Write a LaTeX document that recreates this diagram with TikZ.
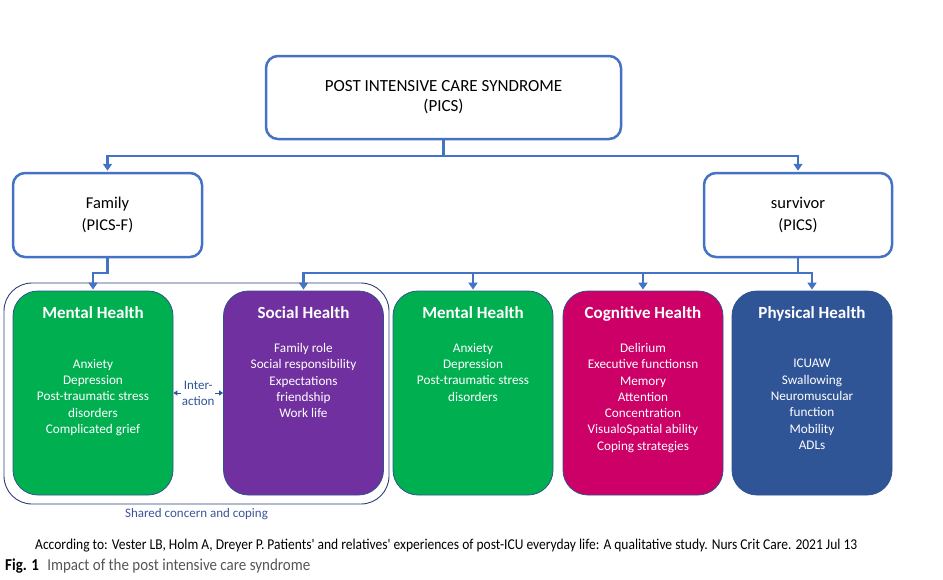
\documentclass[tikz,border=0pt]{standalone}
\usepackage{fontspec}
\setmainfont{Carlito}
\newfontfamily\citefont{Carlito}[Ligatures=ResetAll, FakeStretch=0.9]
\usetikzlibrary{arrows.meta}
\definecolor{cblue}{HTML}{4472C4}
\definecolor{cgreen}{HTML}{00B050}
\definecolor{cpurple}{HTML}{7030A0}
\definecolor{cmag}{HTML}{CC0066}
\definecolor{cphys}{HTML}{2F5597}
\definecolor{cedge}{HTML}{2F528F}
\definecolor{cnavy}{HTML}{2B3F73}
\definecolor{cshared}{HTML}{3B5598}
\definecolor{cgray}{HTML}{555555}
\begin{document}
\begin{tikzpicture}[x=1pt,y=-1pt,
  wbox/.style={draw=cblue, line width=2.5pt, rounded corners=12pt, fill=white,
    align=center, text=black, font=\fontsize{16.5}{22}\selectfont},
  cbox/.style={draw=cedge, line width=0.8pt, rounded corners=25pt,
    minimum width=160pt, minimum height=204pt, inner sep=0pt},
  hdr/.style={text=white, font=\bfseries\fontsize{17}{20}\selectfont, inner sep=0pt, anchor=base},
  body/.style={text=white, align=center, anchor=north, inner sep=0pt,
    font=\fontsize{13.2}{16.3}\selectfont},
  conn/.style={draw=cblue, line width=2.5pt},
  arr/.style={conn, -{Triangle[width=9pt,length=7pt]}, shorten >=1pt},
  iarr/.style={draw=cphys, line width=0.9pt, {Triangle[width=5pt,length=4pt]}-{Triangle[width=5pt,length=4pt]}},
  sharedbox/.style={draw=cnavy, line width=0.9pt, rounded corners=28pt,
    minimum width=385pt, minimum height=221pt, inner sep=0pt}
]
\useasboundingbox (0,0) rectangle (943,579);

% shared concern frame
\node[sharedbox] (shared) at (196.5,393.5) {};
\node[text=cshared, font=\fontsize{13}{15}\selectfont, anchor=north, inner sep=0pt] (sharedlbl)
  at ([yshift=-4pt]shared.south) {Shared concern and coping};

% top level
\node[wbox, minimum width=355pt, minimum height=83pt, font=\fontsize{17}{20}\selectfont] (top)
  at (443.5,97.5) {POST INTENSIVE CARE SYNDROME\\(PICS)};
\node[wbox, minimum width=189pt, minimum height=84pt] (fam) at (107.5,215) {Family\\(PICS-F)};
\node[wbox, minimum width=188pt, minimum height=84pt] (surv) at (798,215) {survivor\\(PICS)};

% coloured boxes
\node[cbox, fill=cgreen] (mh1) at (93,393) {};
\node[cbox, fill=cpurple] (sh) at (303.5,393) {};
\node[cbox, fill=cgreen] (mh2) at (473,393) {};
\node[cbox, fill=cmag] (cg) at (643,393) {};
\node[cbox, fill=cphys] (ph) at (812,393) {};

\node[hdr] (mh1h) at ([yshift=-28pt]mh1.north) {Mental Health};
\node[hdr] (shh) at ([yshift=-28pt]sh.north) {Social Health};
\node[hdr] (mh2h) at ([yshift=-28pt]mh2.north) {Mental Health};
\node[hdr] (cgh) at ([yshift=-28pt]cg.north) {Cognitive Health};
\node[hdr] (phh) at ([yshift=-28pt]ph.north) {Physical Health};

\node[body] (mh1b) at ([yshift=-68.5pt]mh1.north) {Anxiety\\Depression\\Post-traumatic stress\\disorders\\Complicated grief};
\node[body] (shb) at ([yshift=-52.5pt]sh.north) {Family role\\Social responsibility\\Expectations\\friendship\\Work life};
\node[body] (mh2b) at ([yshift=-52.5pt]mh2.north) {Anxiety\\Depression\\Post-traumatic stress\\disorders};
\node[body] (cgb) at ([yshift=-52.5pt]cg.north) {Delirium\\Executive functionsn\\Memory\\Attention\\Concentration\\VisualoSpatial ability\\Coping strategies};
\node[body] (phb) at ([yshift=-68.5pt]ph.north) {ICUAW\\Swallowing\\Neuromuscular\\function\\Mobility\\ADLs};

% connectors
\coordinate (bus1) at (0,156);
\coordinate (bus2) at (0,273);
\draw[conn] (top.south) -- (top.south |- bus1);
\draw[arr] (top.south |- bus1) -| (fam.north);
\draw[arr] (top.south |- bus1) -| (surv.north);
\draw[arr] (fam.south) -- (fam.south |- bus2) -| (mh1.north);
\draw[conn] (surv.south) -- (surv.south |- bus2);
\draw[arr] (surv.south |- bus2) -| (ph.north);
\draw[arr] (surv.south |- bus2) -| (sh.north);
\draw[arr] (mh2.north |- bus2) -- (mh2.north);
\draw[arr] (cg.north |- bus2) -- (cg.north);

% interaction
\draw[iarr] (mh1.east) -- (sh.west)
  node[midway, fill=white, text=cphys, align=center, inner sep=0.5pt,
       font=\fontsize{13}{16}\selectfont] (inter) {Inter-\\action};

% captions
\node[anchor=west, inner sep=0pt] (cite) at (35,546)
  {\resizebox{822pt}{!}{\citefont\fontsize{11}{13}\selectfont According to: Vester LB, Holm A, Dreyer P. Patients' and relatives' experiences of post-ICU everyday life: A qualitative study. Nurs Crit Care. 2021 Jul 13}};
\node[anchor=west, inner sep=0pt] (fig) at (5,566)
  {\resizebox{305pt}{!}{\citefont\fontsize{11}{13}\selectfont\textbf{Fig. 1}\enspace{\color{cgray}Impact of the post intensive care syndrome}}};
\end{tikzpicture}
\end{document}
